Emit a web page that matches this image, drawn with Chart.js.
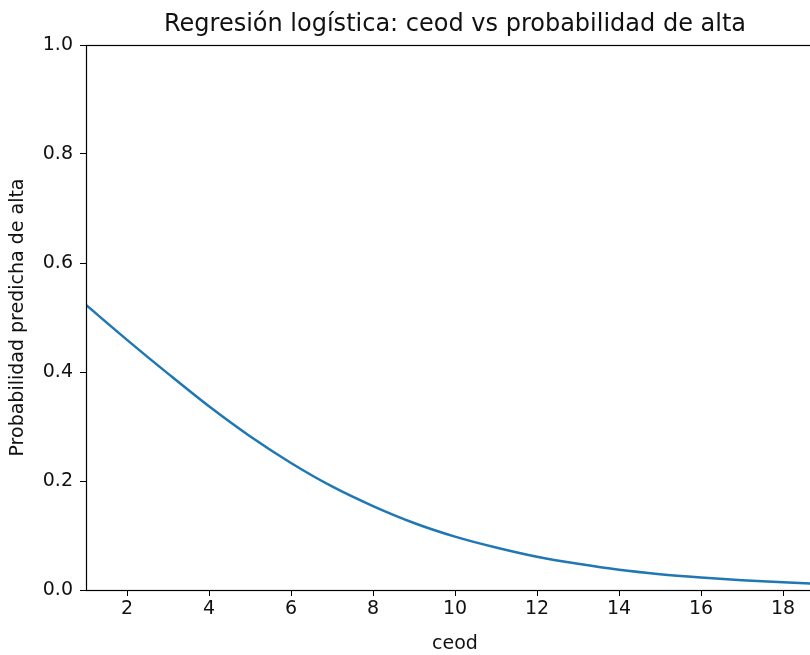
<!DOCTYPE html>
<html>
<head>
<meta charset="utf-8">
<script src="https://cdn.jsdelivr.net/npm/chart.js@4.4.1/dist/chart.umd.min.js"></script>
<style>
  html, body { margin: 0; padding: 0; background: #fff; overflow: hidden; }
</style>
</head>
<body>
<canvas id="logitChart" width="830" height="655"></canvas>
<script>
// valores
const ceod = [1, 2, 3, 4, 5, 6, 7, 8, 9, 10, 11, 12, 13, 14, 15, 16, 17, 18, 19];
const probAlta = [0.523, 0.459, 0.397, 0.337, 0.282, 0.233, 0.190, 0.154, 0.123, 0.098,
                  0.078, 0.061, 0.048, 0.037, 0.029, 0.023, 0.018, 0.014, 0.011];
const xTicks = [2, 4, 6, 8, 10, 12, 14, 16, 18];
const yTicks = [0, 0.2, 0.4, 0.6, 0.8, 1.0];

const fontFam = "'DejaVu Sans', sans-serif";

// title centered on the axes + box around plot area
const frame = {
    id: 'frame',
    afterDraw(chart) {
        const { ctx, chartArea: a } = chart;
        ctx.save();
        ctx.strokeStyle = '#000';
        ctx.lineWidth = 1.2;
        ctx.strokeRect(a.left + 0.5, a.top + 0.5, a.right - a.left, a.bottom - a.top);
        ctx.fillStyle = '#111';
        ctx.font = "24px " + fontFam;
        ctx.textAlign = 'center';
        ctx.textBaseline = 'middle';
        ctx.fillText('Regresión logística: ceod vs probabilidad de alta', (a.left + a.right) / 2, 25);
        ctx.restore();
    }
};

const ctx = document.getElementById('logitChart').getContext('2d');
new Chart(ctx, {
    type: 'line',
    data: {
        datasets: [{
            data: ceod.map((x, i) => ({ x: x, y: probAlta[i] })),
            borderColor: '#1f77b4',
            borderWidth: 2.5,
            pointRadius: 0,
            cubicInterpolationMode: 'monotone',
            fill: false
        }]
    },
    options: {
        responsive: false,
        animation: false,
        layout: { padding: { left: 0, right: 6, top: 45, bottom: 0 } },
        plugins: {
            legend: { display: false },
            title: { display: false },
            tooltip: { enabled: false }
        },
        scales: {
            x: {
                type: 'linear',
                min: 1,
                max: 19,
                afterBuildTicks: (s) => { s.ticks = xTicks.map(v => ({ value: v })); },
                afterFit: (s) => { s.height = 65; },
                border: { display: false },
                grid: { drawOnChartArea: false, tickLength: 6, color: '#000' },
                ticks: { color: '#111', font: { family: fontFam, size: 19 }, padding: 2, maxRotation: 0 },
                title: { display: true, text: 'ceod', color: '#111', font: { family: fontFam, size: 19 }, padding: { top: 0, bottom: 0 } }
            },
            y: {
                min: 0,
                max: 1,
                afterBuildTicks: (s) => { s.ticks = yTicks.map(v => ({ value: v })); },
                afterFit: (s) => { s.width = 86; },
                border: { display: false },
                grid: { drawOnChartArea: false, tickLength: 6, color: '#000' },
                ticks: { color: '#111', font: { family: fontFam, size: 19 }, padding: 7,
                         callback: (v) => v.toFixed(1) },
                title: { display: true, text: 'Probabilidad predicha de alta', color: '#111', font: { family: fontFam, size: 19 }, padding: { top: 7, bottom: 0 } }
            }
        }
    },
    plugins: [frame]
});
</script>
</body>
</html>
